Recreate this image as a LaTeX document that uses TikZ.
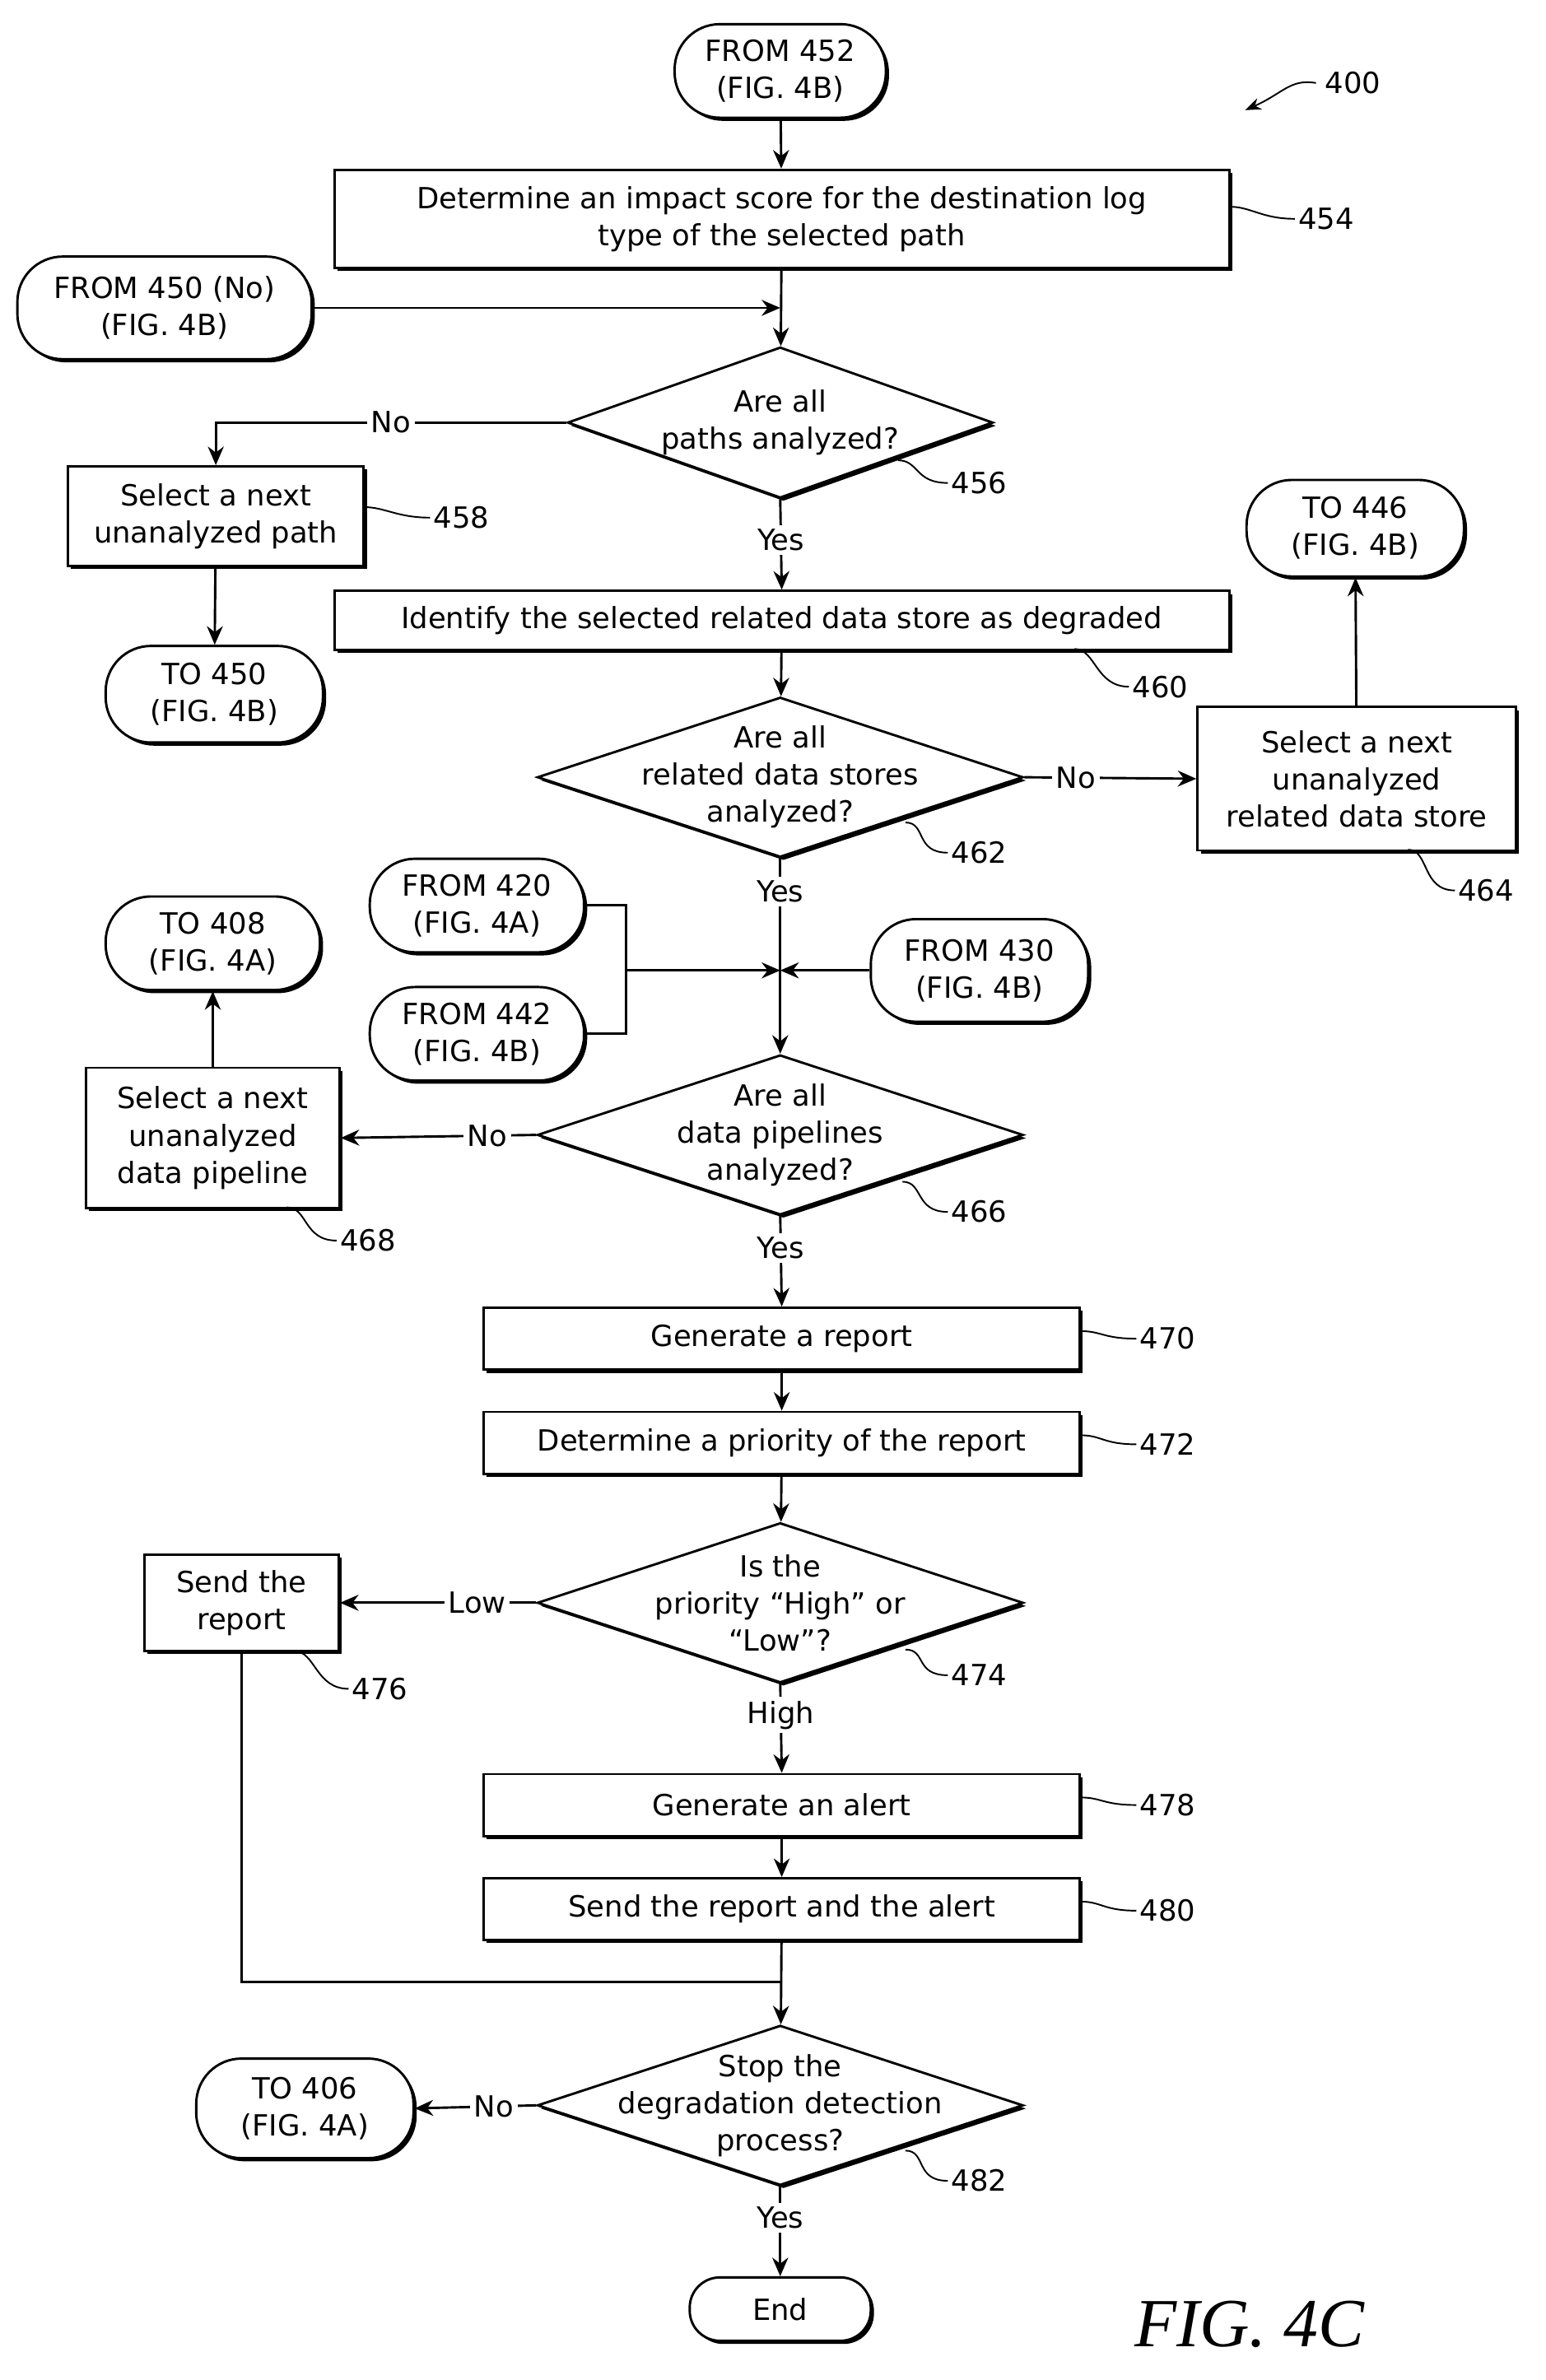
\documentclass[tikz,border=0pt]{standalone}
\usepackage{fontspec}
\setmainfont{DejaVu Sans}
\usetikzlibrary{shapes.geometric,shadows,arrows.meta}
\tikzset{
  box/.style={draw, line width=0.9pt, fill=white, align=center, inner sep=0pt,
    drop shadow={shadow xshift=1.2pt, shadow yshift=-1.2pt, fill=black, opacity=1}},
  term/.style={draw, line width=0.9pt, rounded corners=0.6cm, fill=white, align=center, inner sep=0pt,
    drop shadow={shadow xshift=1.2pt, shadow yshift=-1.2pt, fill=black, opacity=1}},
  dia/.style={draw, diamond, line width=0.9pt, fill=white, inner sep=0pt,
    drop shadow={shadow xshift=1.2pt, shadow yshift=-1.2pt, fill=black, opacity=1}},
  flow/.style={line width=0.9pt, -{Stealth[length=7pt,width=6pt]}},
  line/.style={line width=0.9pt},
  lab/.style={fill=white, inner sep=1.5pt},
  lead/.style={line width=0.6pt},
}
\newcommand{\leader}[5]{\draw[lead] (#1,#2) .. controls (#1+14,#2) and (#3-22,#4) .. (#3,#4) node[right, inner sep=1pt] {#5};}
\begin{document}
\fontsize{11pt}{14pt}\selectfont
\begin{tikzpicture}[x=0.02cm,y=-0.02cm]
\useasboundingbox (0,0) rectangle (1024,1577);

% terminals
\node[term, minimum width=2.8cm, minimum height=1.24cm] (f452) at (517,47) {FROM 452\\(FIG. 4B)};
\node[term, minimum width=3.9cm, minimum height=1.36cm] (f450) at (109,204) {FROM 450 (No)\\(FIG. 4B)};
\node[term, minimum width=2.88cm, minimum height=1.28cm] (t450) at (142,460) {TO 450\\(FIG. 4B)};
\node[term, minimum width=2.88cm, minimum height=1.28cm] (t446) at (898,350) {TO 446\\(FIG. 4B)};
\node[term, minimum width=2.84cm, minimum height=1.24cm] (f420) at (316,600) {FROM 420\\(FIG. 4A)};
\node[term, minimum width=2.84cm, minimum height=1.24cm] (f442) at (316,685) {FROM 442\\(FIG. 4B)};
\node[term, minimum width=2.88cm, minimum height=1.36cm] (f430) at (649,643) {FROM 430\\(FIG. 4B)};
\node[term, minimum width=2.84cm, minimum height=1.24cm] (t408) at (141,625) {TO 408\\(FIG. 4A)};
\node[term, minimum width=2.88cm, minimum height=1.32cm] (t406) at (202,1397) {TO 406\\(FIG. 4A)};
\node[term, minimum width=2.4cm, minimum height=0.84cm, rounded corners=0.4cm] (end) at (517,1530) {End};

% boxes
\node[box, minimum width=11.86cm, minimum height=1.3cm] (b454) at (518,145) {Determine an impact score for the destination log\\type of the selected path};
\node[box, minimum width=3.92cm, minimum height=1.32cm] (b458) at (143,342) {Select a next\\unanalyzed path};
\node[box, minimum width=11.86cm, minimum height=0.78cm] (b460) at (518,411) {Identify the selected related data store as degraded};
\node[box, minimum width=4.22cm, minimum height=1.9cm] (b464) at (899,516) {Select a next\\unanalyzed\\related data store};
\node[box, minimum width=3.36cm, minimum height=1.86cm] (b468) at (141,754) {Select a next\\unanalyzed\\data pipeline};
\node[box, minimum width=7.9cm, minimum height=0.82cm] (b470) at (518,887) {Generate a report};
\node[box, minimum width=7.9cm, minimum height=0.82cm] (b472) at (518,956) {Determine a priority of the report};
\node[box, minimum width=2.58cm, minimum height=1.28cm] (b476) at (160,1062) {Send the\\report};
\node[box, minimum width=7.9cm, minimum height=0.82cm] (b478) at (518,1196) {Generate an alert};
\node[box, minimum width=7.9cm, minimum height=0.82cm] (b480) at (518,1265) {Send the report and the alert};

% decisions
\node[dia, minimum width=5.64cm, minimum height=2.0cm] (d456) at (517,280) {};
\node[align=center] at (d456) {Are all\\paths analyzed?};
\node[dia, minimum width=6.44cm, minimum height=2.12cm] (d462) at (517,515) {};
\node[align=center] at (d462) {Are all\\related data stores\\analyzed?};
\node[dia, minimum width=6.44cm, minimum height=2.12cm] (d466) at (517,752) {};
\node[align=center] at (d466) {Are all\\data pipelines\\analyzed?};
\node[dia, minimum width=6.44cm, minimum height=2.12cm] (d474) at (517,1062) {};
\node[align=center] at (d474) {Is the\\priority “High” or\\“Low”?};
\node[dia, minimum width=6.44cm, minimum height=2.12cm] (d482) at (517,1395) {};
\node[align=center] at (d482) {Stop the\\degradation detection\\process?};

% junctions
\coordinate (j450) at (517,204);
\coordinate (j430) at (517,643);
\coordinate (j420) at (415,643);
\coordinate (j476) at (517,1313);

% connectors
\draw[flow] (f452) -- (b454);
\draw[flow] (b454) -- (d456);
\draw[flow] (f450.east) -- (j450);
\draw[flow] (d456.west) -| node[lab, pos=0.25] {No} (b458.north);
\draw[flow] (d456.south) -- node[lab, pos=0.45] {Yes} (b460.north);
\draw[flow] (b458) -- (t450);
\draw[flow] (b460) -- (d462);
\draw[flow] (d462.east) -- node[lab, pos=0.3] {No} (b464.west);
\draw[flow] (b464) -- (t446);
\draw[flow] (d462.south) -- node[lab, pos=0.17] {Yes} (d466.north);
\draw[line] (f420.east) -| (j420) |- (f442.east);
\draw[flow] (j420) -- (j430);
\draw[flow] (f430.west) -- (j430);
\draw[flow] (d466.west) -- node[lab, pos=0.25] {No} (b468.east);
\draw[flow] (b468) -- (t408);
\draw[flow] (d466.south) -- node[lab, pos=0.35] {Yes} (b470.north);
\draw[flow] (b470) -- (b472);
\draw[flow] (b472) -- (d474);
\draw[flow] (d474.west) -- node[lab, pos=0.3] {Low} (b476.east);
\draw[flow] (d474.south) -- node[lab, pos=0.35] {High} (b478.north);
\draw[flow] (b478) -- (b480);
\draw[flow] (b480) -- (d482);
\draw[line] (b476.south) |- (j476);
\draw[flow] (d482.west) -- node[lab, pos=0.35] {No} (t406.east);
\draw[flow] (d482.south) -- node[lab, pos=0.35] {Yes} (end.north);

% reference numerals
\leader{815}{137}{858}{145}{454}
\leader{595}{305}{628}{320}{456}
\leader{241}{336}{285}{343}{458}
\leader{712}{430}{748}{455}{460}
\leader{600}{545}{628}{565}{462}
\leader{933}{563}{964}{590}{464}
\leader{598}{783}{628}{803}{466}
\leader{190}{800}{223}{822}{468}
\leader{716}{882}{753}{887}{470}
\leader{716}{951}{753}{957}{472}
\leader{600}{1093}{628}{1110}{474}
\leader{195}{1094}{231}{1119}{476}
\leader{716}{1191}{753}{1196}{478}
\leader{716}{1260}{753}{1266}{480}
\leader{600}{1425}{628}{1445}{482}

% figure number
\draw[lead, -{Stealth[length=6pt]}] (872,55) .. controls (855,52) and (850,62) .. (825,73);
\node[right, inner sep=1pt] at (876,55) {400};
\node[font=\fontsize{26pt}{30pt}\itshape\fontspec{Liberation Serif}] at (828,1540) {FIG. 4C};
\end{tikzpicture}
\end{document}
